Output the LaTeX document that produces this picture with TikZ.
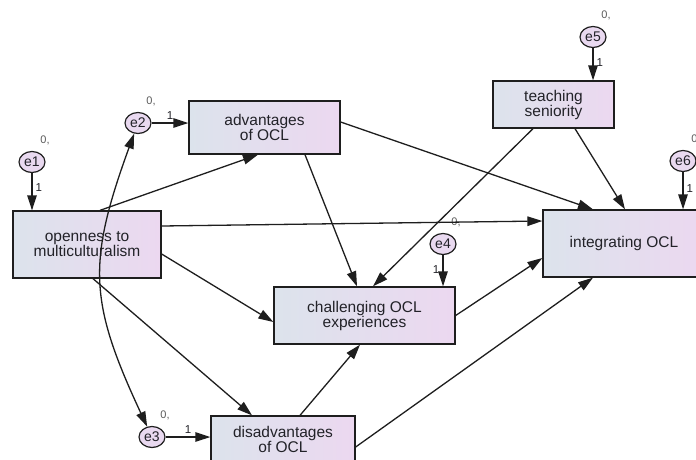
\documentclass[tikz,border=0pt]{standalone}
\usepackage{fontspec}
\setmainfont{Liberation Sans}
\usepackage{tikz}
\usetikzlibrary{shapes,arrows.meta,calc}
\definecolor{lncol}{HTML}{1E1E1E}
\definecolor{boxl}{HTML}{DCE3EC}
\definecolor{boxr}{HTML}{ECD8F0}
\definecolor{errfill}{HTML}{E9D9F0}
\definecolor{txt}{HTML}{222228}
\definecolor{zcol}{HTML}{5A5A5A}
\tikzstyle{line} = [draw=lncol, line width=1.3pt, -{Triangle[length=15pt,width=9.5pt]}]
\tikzstyle{dline} = [line, {Triangle[length=15pt,width=9.5pt]}-{Triangle[length=15pt,width=9.5pt]}]
\tikzstyle{block} = [draw=lncol, line width=1.3pt, rectangle, align=center, text=txt, left color=boxl, right color=boxr, font=\fontsize{15.5}{15}\selectfont, inner sep=0pt]
\tikzstyle{err} = [draw=lncol, line width=1.2pt, ellipse, fill=errfill, minimum width=26pt, minimum height=21pt, inner sep=0pt, text=txt, font=\fontsize{14}{14}\selectfont]
\tikzstyle{zero} = [text=zcol, font=\fontsize{11}{11}\selectfont, label distance=3pt]
\tikzstyle{one} = [text=txt, font=\fontsize{11.5}{11.5}\selectfont, inner sep=3pt]

\begin{document}
\begin{tikzpicture}[x=1pt, y=-1pt]
        \useasboundingbox (0,0) rectangle (696,459);
        \fill[white] (0,0) rectangle (696,459);
        \clip (0,0) rectangle (696,459);
        % observed variables
        \node[block, minimum width=148pt, minimum height=67pt] (open) at (87,244.5) {openness to\\multiculturalism};
        \node[block, minimum width=151pt, minimum height=53pt] (adv) at (264.5,127.5) {advantages\\of OCL};
        \node[block, minimum width=181pt, minimum height=57pt] (chal) at (364.5,315.5) {challenging OCL\\experiences};
        \node[block, minimum width=144pt, minimum height=46pt] (dis) at (283,439) {disadvantages\\of OCL};
        \node[block, minimum width=162pt, minimum height=67pt] (integ) at (624,243.5) {integrating OCL};
        \node[block, minimum width=121pt, minimum height=47pt] (teach) at (553.5,104.5) {teaching\\seniority};
        % error terms
        \node[err, label={[zero]70:0,}] (e1) at (32,162) {e1};
        \node[err, label={[zero]70:0,}] (e2) at (138,123) {e2};
        \node[err, label={[zero]70:0,}] (e3) at (152,437) {e3};
        \node[err, label={[zero]70:0,}] (e4) at (443,244) {e4};
        \node[err, label={[zero]70:0,}] (e5) at (593,37) {e5};
        \node[err, label={[zero]70:0,}] (e6) at (683,161) {e6};
        % paths
        \path[line] ([xshift=13pt]open.north) -- ([xshift=-6.5pt]adv.south);
        \path[line] ([yshift=18.5pt]open.east) -- ([yshift=22.5pt]integ.west);
        \path[line] ([yshift=-9.5pt]open.east) -- ([yshift=-6.5pt]chal.west);
        \path[line] ([xshift=6pt]open.south) -- ([xshift=-31pt]dis.north);
        \path[line] ([xshift=40.5pt]adv.south) -- ([xshift=-7.5pt]chal.north);
        \path[line] ([yshift=5.5pt]adv.east) -- ([xshift=-31pt]integ.north);
        \path[line] ([xshift=-20.5pt]teach.south) -- ([xshift=8.5pt]chal.north);
        \path[line] ([xshift=21.5pt]teach.south) -- ([xshift=1pt]integ.north);
        \path[line] (chal.east) -- ([yshift=-14.5pt]integ.west);
        \path[line] ([xshift=17pt]dis.north) -- ([xshift=-4.5pt]chal.south);
        \path[line] ([yshift=-8pt]dis.east) -- ([xshift=-31pt]integ.south);
        \path[line] (e1) -- node[one, right, pos=0.4] {1} (e1 |- open.north);
        \path[line] (e2) -- node[one, above] {1} (e2 -| adv.west);
        \path[line] (e3) -- node[one, above] {1} (e3 -| dis.west);
        \path[line] (e4) -- node[one, left, pos=0.45] {1} (e4 |- chal.north);
        \path[line] (e5) -- node[one, right, pos=0.45] {1} (e5 |- teach.north);
        \path[line] (e6) -- node[one, right, pos=0.45] {1} (e6 |- integ.north);
        % covariance
        \path[dline] (e2) to[out=250, in=115, looseness=1.2] (e3);
    \end{tikzpicture}
\end{document}
